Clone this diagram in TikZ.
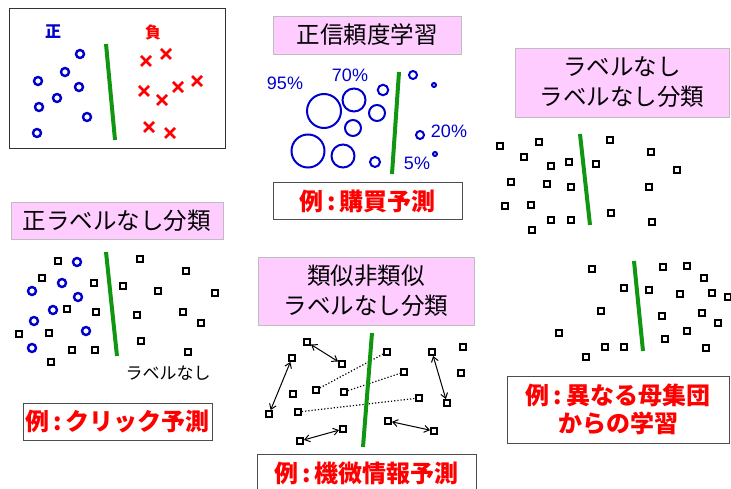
\documentclass[tikz,border=0pt]{standalone}
\usepackage{fontspec}
\setmainfont{Noto Sans CJK JP}
\newfontfamily\lat{Liberation Sans}
\usetikzlibrary{shapes.misc,arrows.meta}
\definecolor{pblue}{RGB}{0,0,204}
\definecolor{pgreen}{RGB}{16,150,16}
\definecolor{ppink}{RGB}{255,204,255}
\definecolor{pgray}{RGB}{190,190,190}
\begin{document}
\begin{tikzpicture}[x=1pt,y=-1pt,
  sqr/.style={draw=black, line width=2.1pt, minimum size=5.8pt, inner sep=0pt},
  posc/.style={circle, draw=pblue, line width=2.4pt, minimum size=8pt, inner sep=0pt},
  negx/.style={cross out, draw=red, line width=2.5pt, minimum size=7.5pt, inner sep=0pt},
  ring/.style={circle, draw=pblue, line width=2pt, inner sep=0pt, minimum size=#1},
  sepline/.style={draw=pgreen, line width=4pt},
  titlebox/.style={fill=ppink, draw=pgray, line width=0.8pt, font=\fontsize{23.5}{30}\selectfont, align=center, inner sep=0pt},
  exbox/.style={fill=white, draw=black!70, line width=1pt, text=red, font=\bfseries\fontsize{24}{28}\selectfont, align=center, inner sep=0pt},
  pct/.style={text=pblue, font=\lat\fontsize{18}{18}\selectfont},
  pairarrow/.style={{Straight Barb[length=5pt,width=7pt]}-{Straight Barb[length=5pt,width=7pt]}, line width=1pt},
  simlink/.style={dotted, line width=1.2pt}
]
\path[use as bounding box] (0,0) rectangle (731,489);
\clip (0,0) rectangle (731,489);

% ---------- Panel 1 ----------
\node[draw=black!80, line width=1pt, minimum width=216pt, minimum height=140pt, inner sep=0pt] (p1box) at (117,79) {};
\node[text=pblue, font=\bfseries\fontsize{16}{16}\selectfont] (p1pos) at (53,32) {正};
\node[text=red, font=\bfseries\fontsize{16}{16}\selectfont] (p1neg) at (153,32) {負};
\foreach \x/\y [count=\i] in {80/54, 65/72, 38/81, 79/87, 57/98, 39/107, 87/117, 37/133}
  \node[posc] (p1c\i) at (\x,\y) {};
\foreach \x/\y [count=\i] in {146/61, 166/54, 144/91, 178/87, 197/81, 162/100, 149/127, 170/133}
  \node[negx] (p1x\i) at (\x,\y) {};
\coordinate (p1t) at (106,44);
\coordinate (p1b) at (115,140);
\draw[sepline] (p1t) -- (p1b);

% ---------- Panel 2 ----------
\node[titlebox, minimum width=188pt, minimum height=38pt] (p2title) at (367,35) {正信頼度学習};
\node[pct] (p2a) at (285,83) {95\%};
\node[pct] (p2b) at (350,75) {70\%};
\node[pct] (p2c) at (449,131) {20\%};
\node[pct] (p2d) at (417,163) {5\%};
\node[ring=34pt] (p2r1) at (324,111) {};
\node[ring=33pt] (p2r2) at (308,151) {};
\node[ring=23pt] (p2r3) at (354,100) {};
\node[ring=23pt] (p2r4) at (343,156) {};
\node[ring=16pt] (p2r5) at (353,128) {};
\node[ring=16pt] (p2r6) at (377,113) {};
\node[ring=10.5pt] (p2r7) at (383,90) {};
\node[ring=10pt] (p2r8) at (375,162) {};
\node[ring=8pt] (p2r9) at (413,75) {};
\node[ring=8pt] (p2r10) at (420,135) {};
\node[ring=4pt] (p2r11) at (434,85) {};
\node[ring=4pt] (p2r12) at (435,154) {};
\coordinate (p2t) at (399,72);
\coordinate (p2b) at (392,174);
\draw[sepline] (p2t) -- (p2b);
\node[exbox, minimum width=189pt, minimum height=37pt] (p2ex) at (367.5,201.5) {例\,:\,購買予測};

% ---------- Panel 3 ----------
\node[titlebox, minimum width=214pt, minimum height=69pt] (p3title) at (622,82.5) {ラベルなし\\ラベルなし分類};
\foreach \x/\y [count=\i] in {500/146, 539/142, 524/157, 551/166, 569/162, 596/164, 610/140, 651/152, 677/170, 511/182, 547/184, 571/187, 649/187, 505/206, 531/205, 551/220, 571/220, 532/230, 611/213, 652/222}
  \node[sqr] (p3s\i) at (\x,\y) {};
\coordinate (p3t) at (580,134);
\coordinate (p3b) at (590,225);
\draw[sepline] (p3t) -- (p3b);

% ---------- Panel 4 ----------
\node[titlebox, minimum width=212pt, minimum height=37pt] (p4title) at (117,220.5) {正ラベルなし分類};
\foreach \x/\y [count=\i] in {77/262, 62/283, 32/291, 78/297, 53/310, 34/321, 86/331, 32/348}
  \node[posc] (p4c\i) at (\x,\y) {};
\foreach \x/\y [count=\i] in {58/261, 42/278, 94/283, 67/309, 96/312, 49/333, 19/334, 72/350, 95/350, 51/362, 140/259, 186/271, 123/286, 158/291, 215/293, 137/315, 183/312, 201/323, 141/341, 188/352}
  \node[sqr] (p4s\i) at (\x,\y) {};
\coordinate (p4t) at (106,252);
\coordinate (p4b) at (117,356);
\draw[sepline] (p4t) -- (p4b);
\node[font=\fontsize{17}{17}\selectfont] (p4lab) at (168,373) {ラベルなし};
\node[exbox, minimum width=189pt, minimum height=37pt] (p4ex) at (117.5,421.5) {例\,:\,クリック予測};

% ---------- Panel 5 ----------
\node[titlebox, minimum width=216pt, minimum height=68pt] (p5title) at (366,291) {類似非類似\\ラベルなし分類};
\node[sqr] (a1) at (307,342) {};
\node[sqr] (a2) at (342,364) {};
\node[sqr] (b1) at (292,358) {};
\node[sqr] (b2) at (269,414) {};
\node[sqr] (c1) at (432,352) {};
\node[sqr] (c2) at (447,403) {};
\node[sqr] (d1) at (388,421) {};
\node[sqr] (d2) at (434,431) {};
\node[sqr] (e1) at (343,429) {};
\node[sqr] (e2) at (300,441) {};
\node[sqr] (f1) at (316,390) {};
\node[sqr] (f2) at (387,352) {};
\node[sqr] (g1) at (344,392) {};
\node[sqr] (g2) at (404,372) {};
\node[sqr] (h1) at (298,412) {};
\node[sqr] (h2) at (419,398) {};
\node[sqr] (k1) at (463,347) {};
\node[sqr] (k2) at (461,373) {};
\node[sqr] (k3) at (293,394) {};
\draw[pairarrow] (a1) -- (a2);
\draw[pairarrow] (b1) -- (b2);
\draw[pairarrow] (c1) -- (c2);
\draw[pairarrow] (d1) -- (d2);
\draw[pairarrow] (e1) -- (e2);
\draw[simlink] (f1) -- (f2);
\draw[simlink] (g1) -- (g2);
\draw[simlink] (h1) -- (h2);
\coordinate (p5t) at (372,333);
\coordinate (p5b) at (363,447);
\draw[sepline] (p5t) -- (p5b);
\node[exbox, minimum width=219pt, minimum height=38pt] (p5ex) at (366.5,473) {例\,:\,機微情報予測};

% ---------- Panel 6 ----------
\foreach \x/\y [count=\i] in {592/269, 624/288, 601/311, 559/333, 605/347, 624/347, 586/357, 663/267, 687/266, 704/278, 649/290, 680/294, 712/293, 728/297, 662/316, 702/313, 718/323, 687/331, 665/339, 706/348}
  \node[sqr] (p6s\i) at (\x,\y) {};
\coordinate (p6t) at (634,261);
\coordinate (p6b) at (643,351);
\draw[sepline] (p6t) -- (p6b);
\node[exbox, minimum width=222pt, minimum height=67pt] (p6ex) at (618,409.5) {例\,:\,異なる母集団\\からの学習};
\end{tikzpicture}
\end{document}
